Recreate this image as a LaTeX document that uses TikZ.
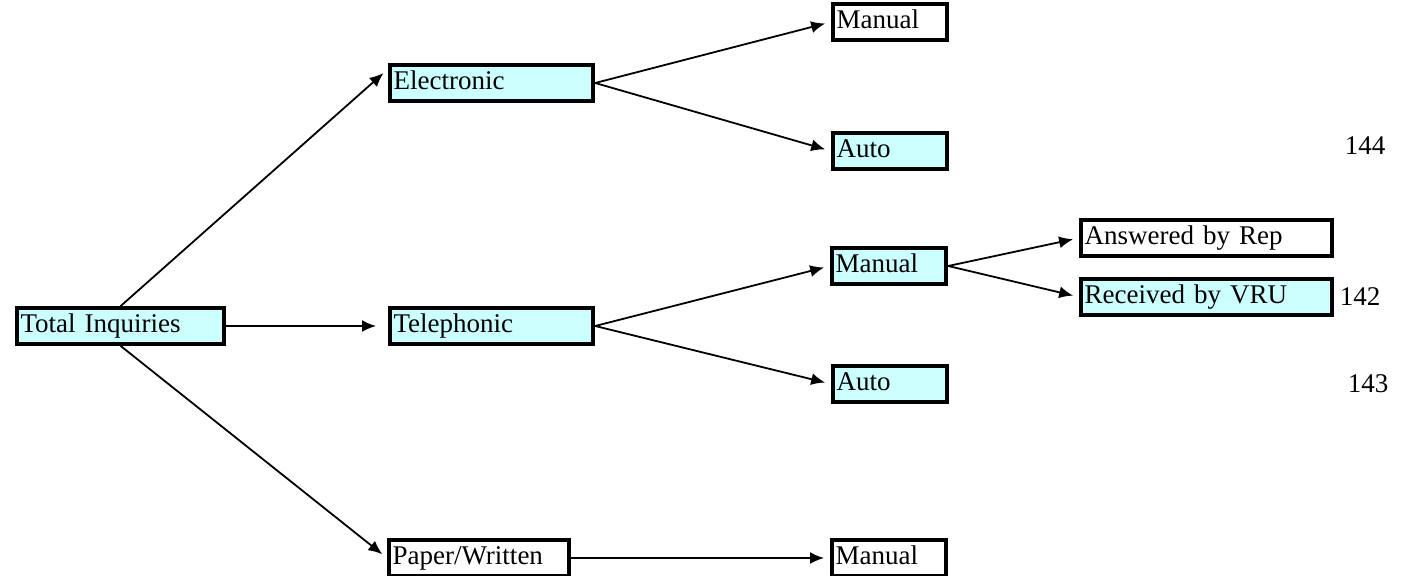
\documentclass[tikz,border=0pt]{standalone}
\usepackage{fontspec}
\setmainfont{Liberation Serif}
\usepackage{tikz}
\usetikzlibrary{arrows.meta}
\definecolor{pale}{HTML}{CCFFFF}
\tikzstyle{box}=[draw,rectangle,line width=2pt,inner xsep=1.8pt,inner ysep=2.2pt,text height=10pt,text depth=3.5pt,align=left,anchor=west,font=\fontsize{13.5}{16}\selectfont]
\tikzstyle{hi}=[box,fill=pale]
\tikzstyle{lo}=[box,fill=white]
\tikzstyle{num}=[font=\fontsize{13.5}{16}\selectfont]

\begin{document}
\begin{tikzpicture}[x=0.5pt,y=-0.5pt,>={Latex[length=7pt,width=6pt]},line width=0.9pt]
      \useasboundingbox (0,0) rectangle (1420,576);
      % first level
      \node [hi, text width=100pt] (total) at (15,326) {Total Inquiries};
      \node [hi, text width=98pt] (elec) at (388,83) {Electronic};
      \node [hi, text width=98pt] (tel) at (388,326) {Telephonic};
      \node [lo, text width=86.5pt] (paper) at (387,558) {Paper/Written};
      % second level
      \node [lo, text width=53.5pt] (elecman) at (831,22) {Manual};
      \node [hi, text width=53.5pt] (elecauto) at (831,151) {Auto};
      \node [hi, text width=53.5pt] (telman) at (830,266) {Manual};
      \node [hi, text width=53.5pt] (telauto) at (831,384) {Auto};
      \node [lo, text width=53.5pt] (paperman) at (830,558) {Manual};
      % third level
      \node [lo, text width=122pt] (rep) at (1079,238) {Answered by Rep};
      \node [hi, text width=122pt] (vru) at (1079,297) {Received by VRU};
      % counts
      \node [num] (n144) at (1365,146) {144};
      \node [num] (n142) at (1360,297) {142};
      \node [num] (n143) at (1368,384) {143};

      \path [->, shorten >=3pt] (total.north) edge ([yshift=-3pt]elec.north west)
                 (total.east) edge [shorten >=6pt] (tel.west)
                 (total.south) edge (paper.west)
                 (elec.east) edge (elecman.west)
                     edge (elecauto.west)
                 (tel.east) edge (telman.west)
                     edge (telauto.west)
                 (telman.east) edge (rep.west)
                     edge (vru.west)
                 (paper.east) edge (paperman.west);
\end{tikzpicture}
\end{document}
